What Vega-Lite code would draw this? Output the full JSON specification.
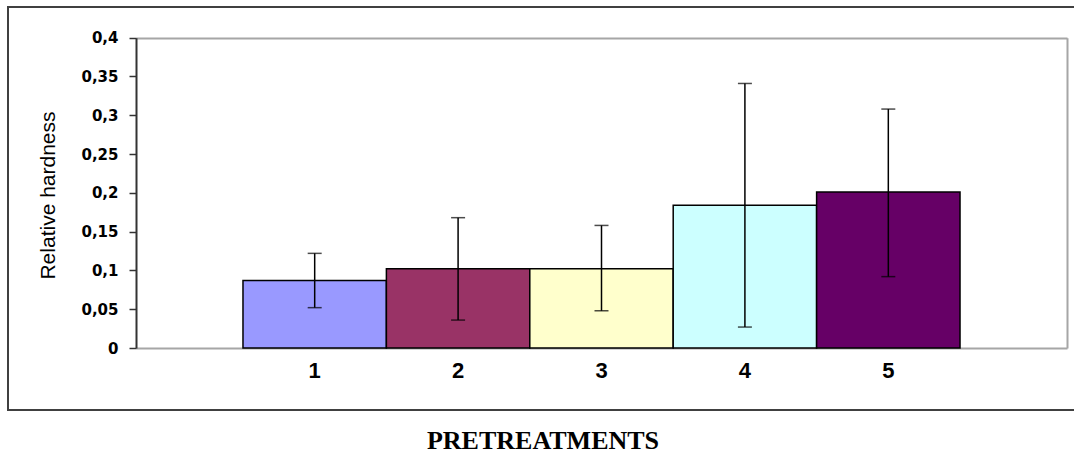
{
  "$schema": "https://vega.github.io/schema/vega-lite/v6.json",
  "autosize": {"type": "none"},
  "padding": {"left": 8, "top": 7, "right": 0, "bottom": 47},
  "width": 1070,
  "height": 403,
  "background": "white",
  "title": {
    "text": "PRETREATMENTS",
    "orient": "bottom",
    "anchor": "middle",
    "frame": "group",
    "offset": 18,
    "font": "Liberation Serif",
    "fontSize": 26,
    "fontWeight": "bold",
    "color": "black"
  },
  "config": {
    "view": {"stroke": "#404040", "strokeWidth": 2, "fill": "white"}
  },
  "data": {
    "values": [
      {"pretreatment": "1", "hardness": 0.087, "lower": 0.052, "upper": 0.122},
      {"pretreatment": "2", "hardness": 0.102, "lower": 0.036, "upper": 0.168},
      {"pretreatment": "3", "hardness": 0.102, "lower": 0.048, "upper": 0.158},
      {"pretreatment": "4", "hardness": 0.184, "lower": 0.027, "upper": 0.341},
      {"pretreatment": "5", "hardness": 0.201, "lower": 0.092, "upper": 0.308}
    ]
  },
  "layer": [
    {
      "mark": {"type": "bar", "stroke": "black", "strokeWidth": 1.5},
      "encoding": {
        "x": {
          "field": "pretreatment",
          "type": "ordinal",
          "scale": {"range": [128, 1059], "paddingInner": 0, "paddingOuter": 0.746},
          "axis": {
            "orient": "bottom",
            "offset": -62,
            "title": null,
            "labelAngle": 0,
            "ticks": false,
            "domainColor": "#a6a6a6",
            "domainWidth": 2,
            "labelFont": "Liberation Sans",
            "labelFontSize": 22,
            "labelFontWeight": "bold",
            "labelColor": "black",
            "labelPadding": 12
          }
        },
        "y": {
          "field": "hardness",
          "type": "quantitative",
          "scale": {"domain": [0, 0.4], "nice": false, "zero": true, "range": [341, 30.7]},
          "axis": {
            "orient": "left",
            "offset": -128,
            "values": [0, 0.05, 0.1, 0.15, 0.2, 0.25, 0.3, 0.35, 0.4],
            "labelExpr": "replace(format(datum.value, '.2~f'), '.', ',')",
            "grid": false,
            "domainColor": "#333333",
            "domainWidth": 2,
            "tickColor": "#333333",
            "tickWidth": 1.5,
            "tickSize": 7,
            "labelFont": "DejaVu Sans",
            "labelFontSize": 15,
            "labelFontWeight": "bold",
            "labelColor": "black",
            "labelPadding": 11,
            "title": "Relative hardness",
            "titleFont": "Liberation Sans",
            "titleFontSize": 21,
            "titleFontWeight": "normal",
            "titleColor": "black",
            "titleX": -88,
            "titleY": 188,
            "titleBaseline": "middle",
            "titleAngle": -90
          }
        },
        "color": {
          "field": "pretreatment",
          "type": "nominal",
          "scale": {"range": ["#9999FF", "#993366", "#FFFFCC", "#CCFFFF", "#660066"]},
          "legend": null
        }
      }
    },
    {
      "mark": {"type": "rule", "color": "black", "strokeWidth": 1.5},
      "encoding": {
        "x": {
          "field": "pretreatment",
          "type": "ordinal",
          "axis": {
            "orient": "top",
            "offset": -31,
            "title": null,
            "labels": false,
            "ticks": false,
            "domainColor": "#a6a6a6",
            "domainWidth": 2
          }
        },
        "y": {
          "field": "lower",
          "type": "quantitative",
          "axis": {
            "orient": "right",
            "offset": -11,
            "title": null,
            "labels": false,
            "ticks": false,
            "grid": false,
            "domainColor": "#a6a6a6",
            "domainWidth": 2
          }
        },
        "y2": {"field": "upper"}
      }
    },
    {
      "mark": {"type": "tick", "color": "black", "size": 14, "thickness": 1.5},
      "encoding": {
        "x": {"field": "pretreatment", "type": "ordinal", "axis": null},
        "y": {"field": "lower", "type": "quantitative", "axis": null}
      }
    },
    {
      "mark": {"type": "tick", "color": "black", "size": 14, "thickness": 1.5},
      "encoding": {
        "x": {"field": "pretreatment", "type": "ordinal", "axis": null},
        "y": {"field": "upper", "type": "quantitative", "axis": null}
      }
    }
  ],
  "resolve": {"axis": {"x": "independent", "y": "independent"}}
}
